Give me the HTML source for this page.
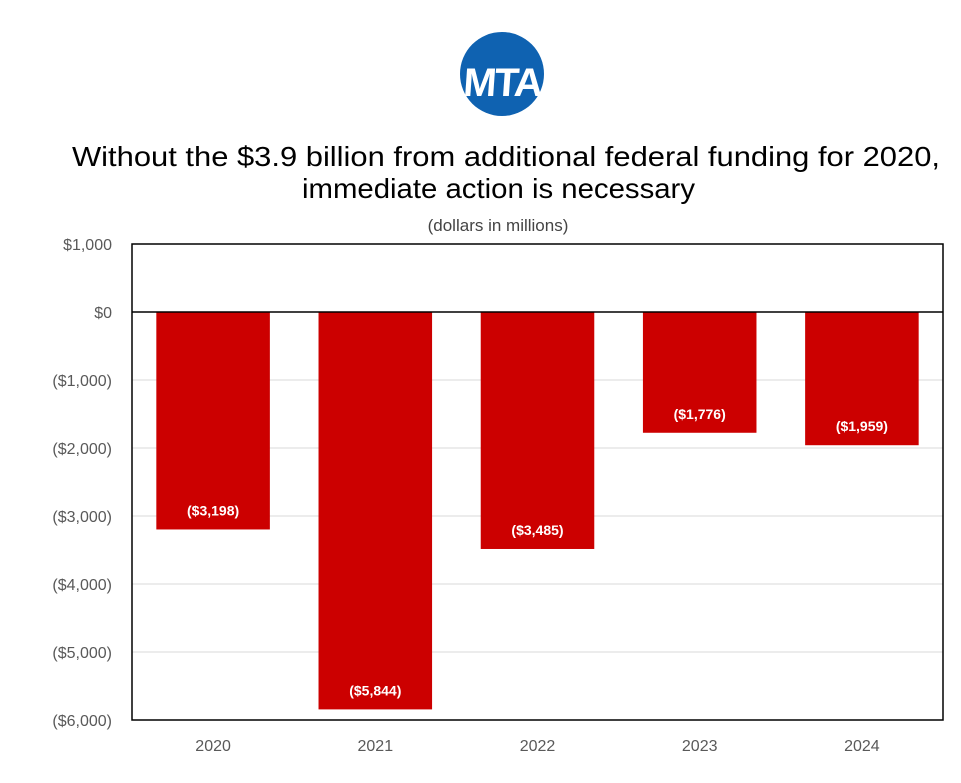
<!DOCTYPE html>
<html><head><meta charset="utf-8"><style>
body{margin:0;background:#fff;width:961px;height:778px;overflow:hidden;font-family:"Liberation Sans",sans-serif}
</style></head><body>
<svg id="chart" width="961" height="778" xmlns="http://www.w3.org/2000/svg">
<g>
<circle cx="502" cy="74" r="42" fill="#0f62b1"/>
<text x="508" y="96" text-anchor="middle" font-family="Liberation Sans" font-weight="bold" font-size="40" fill="#fff" transform="skewX(-4)" letter-spacing="-2">MTA</text>
</g>
<text x="72" y="166" font-size="28" fill="#000" textLength="868" lengthAdjust="spacingAndGlyphs">Without the $3.9 billion from additional federal funding for 2020,</text>
<text x="302" y="198" font-size="28" fill="#000" textLength="393" lengthAdjust="spacingAndGlyphs">immediate action is necessary</text>
<text x="498" y="231" text-anchor="middle" font-size="17" fill="#444">(dollars in millions)</text>
<g id="grid"></g><g id="bars"></g><g id="axes"></g>
</svg>
<script>
const categories=["2020","2021","2022","2023","2024"];
const values=[-3198,-5844,-3485,-1776,-1959];
const valueLabels=["($3,198)","($5,844)","($3,485)","($1,776)","($1,959)"];
const tickValues=[1000,0,-1000,-2000,-3000,-4000,-5000,-6000];
const tickLabels=["$1,000","$0","($1,000)","($2,000)","($3,000)","($4,000)","($5,000)","($6,000)"];
const L=132,R=943,T=244,B=720,NS="http://www.w3.org/2000/svg";
const y=v=>T+(1000-v)/7000*(B-T);
const cw=(R-L)/categories.length;
const x=i=>L+cw*i+cw/2;
function mk(p,tag,a,t){const e=document.createElementNS(NS,tag);for(const k in a)e.setAttribute(k,a[k]);if(t!==undefined)e.textContent=t;document.getElementById(p).appendChild(e);return e;}
tickValues.forEach((v,i)=>{
 if(v!==0&&v!==1000&&v!==-6000){const g=mk("grid","line",{x1:L,x2:R,y1:y(v),y2:y(v),stroke:"#d9d9d9","stroke-width":1});
 
 }
 const t=mk("axes","text",{x:112,y:y(v)+6,"text-anchor":"end","font-size":"16",fill:"#595959"},tickLabels[i]);
 
 
});
const bw=cw*0.7;
categories.forEach((c,i)=>{
 const v=values[i];
 const r=mk("bars","rect",{x:x(i)-bw/2,y:Math.min(y(0),y(v)),width:bw,height:Math.abs(y(v)-y(0)),fill:"#cc0000"});
 
 
 const lb=mk("bars","text",{x:x(i),y:y(v)-14,"text-anchor":"middle","font-size":"14","font-weight":"bold",fill:"#fff"},valueLabels[i]);
 
 
 const xl=mk("axes","text",{x:x(i),y:751,"text-anchor":"middle","font-size":"16",fill:"#595959"},c);
 
 
});
const f=mk("axes","rect",{x:L,y:T,width:R-L,height:B-T,fill:"none",stroke:"#000","stroke-width":1.5});


const z=mk("axes","line",{x1:L,x2:R,y1:y(0),y2:y(0),stroke:"#000","stroke-width":1.5});


</script>
</body></html>
